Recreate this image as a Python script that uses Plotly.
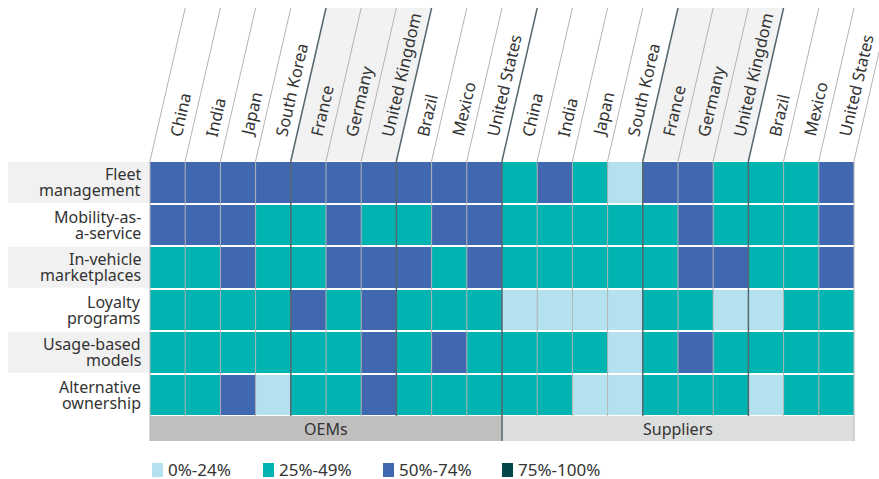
import plotly.graph_objects as go

# ---- data -------------------------------------------------------------
countries = ["China", "India", "Japan", "South Korea", "France", "Germany",
             "United Kingdom", "Brazil", "Mexico", "United States"]
groups = ["OEMs", "Suppliers"]
use_cases = [
    "Fleet\nmanagement",
    "Mobility-as-\na-service",
    "In-vehicle\nmarketplaces",
    "Loyalty\nprograms",
    "Usage-based\nmodels",
    "Alternative\nownership",
]
bins = ["0%-24%", "25%-49%", "50%-74%", "75%-100%"]

# bin index per use case, one entry per country (same order as countries)
oem_levels = [
    [2, 2, 2, 2, 2, 2, 2, 2, 2, 2],
    [2, 2, 2, 1, 1, 2, 1, 1, 2, 2],
    [1, 1, 2, 1, 1, 2, 2, 2, 1, 2],
    [1, 1, 1, 1, 2, 1, 2, 1, 1, 1],
    [1, 1, 1, 1, 1, 1, 2, 1, 2, 1],
    [1, 1, 2, 0, 1, 1, 2, 1, 1, 1],
]
supplier_levels = [
    [1, 2, 1, 0, 2, 2, 1, 1, 1, 2],
    [1, 1, 1, 1, 1, 2, 1, 1, 1, 2],
    [1, 1, 1, 1, 1, 2, 2, 1, 1, 2],
    [0, 0, 0, 0, 1, 1, 0, 0, 1, 1],
    [1, 1, 1, 0, 1, 2, 1, 1, 1, 1],
    [1, 1, 0, 0, 1, 1, 1, 0, 1, 1],
]
europe = ["France", "Germany", "United Kingdom"]

# ---- styling ----------------------------------------------------------
bin_colors = ["#b3e2ee", "#00b5b1", "#4068b0", "#03474a"]
FONT = "Noto Sans"
TXT = "#333333"
W, H = 879, 479
X0, CW = 150, 35.2      # left edge of grid, column width (px)
Y0, RH = 161, 42.5      # top edge of grid, row height (px)
TOP = 8                 # top of slanted header (px)
ncol = len(countries) * len(groups)
nrow = len(use_cases)


def dx(px):
    return (px - X0) / CW


def dy(py):
    return (py - Y0) / RH


z = [o + s for o, s in zip(oem_levels, supplier_levels)]
cols = [f"{g} - {c}" for g in groups for c in countries]

scale = []
for k, c in enumerate(bin_colors):
    scale += [[k / 4, c], [(k + 1) / 4, c]]

fig = go.Figure(go.Heatmap(
    z=z, x=[i + 0.5 for i in range(ncol)], y=[j + 0.5 for j in range(nrow)],
    zmin=-0.5, zmax=3.5, colorscale=scale, showscale=False,
    xgap=0, ygap=2,
    customdata=[[cols[i] for i in range(ncol)] for _ in range(nrow)],
    text=[[bins[v] for v in row] for row in z],
    hovertemplate="%{customdata}<br>%{text}<extra></extra>",
))

shapes = []
annotations = []
htop = dy(TOP)

# header parallelograms + labels
for g in range(len(groups)):
    for k, c in enumerate(countries):
        i = g * len(countries) + k
        if c in europe:
            shapes.append(dict(
                type="path", layer="below",
                path=f"M {i},0 L {i+1},0 L {i+2},{htop} L {i+1},{htop} Z",
                fillcolor="#f2f2f2", line=dict(width=0)))
        annotations.append(dict(
            x=i + 0.33, y=dy(141), xref="x", yref="y", text=c,
            textangle=-77, xanchor="left", yanchor="bottom", showarrow=False,
            font=dict(family=FONT, size=16.5, color=TXT)))

dark = {4, 7, 10, 14, 17}
for i in range(ncol + 1):
    col = "#56666c" if i in dark else "#b4b4b4"
    wid = 1.5 if i in dark else 1
    shapes.append(dict(type="line", x0=i, y0=0, x1=i + 1, y1=htop,
                       line=dict(color=col, width=wid)))
    y_end = nrow + (dy(441) - nrow if i in (0, 10, 20) else 0)
    shapes.append(dict(type="line", x0=i, y0=0, x1=i, y1=y_end, layer="above",
                       line=dict(color=col, width=wid)))

# row labels
for j, lab in enumerate(use_cases):
    if j % 2 == 0:
        shapes.append(dict(type="rect", layer="below", x0=dx(8), x1=0,
                           y0=j + 0.02, y1=j + 0.98, fillcolor="#f1f1f1",
                           line=dict(width=0)))
    lines = lab.split("\n")
    for n, t in enumerate(lines):
        annotations.append(dict(
            x=dx(142), y=j + 0.5 + (n - (len(lines) - 1) / 2) * 16.4 / RH,
            xref="x", yref="y", text=t, xanchor="right", yanchor="middle",
            showarrow=False, borderpad=0,
            font=dict(family=FONT, size=16, color=TXT)))

# group band
band_cols = ["#c1bfbe", "#dcdddd"]
for g, name in enumerate(groups):
    a = g * len(countries)
    b = a + len(countries)
    shapes.append(dict(type="rect", layer="below", x0=a, x1=b, y0=nrow,
                       y1=dy(441), fillcolor=band_cols[g], line=dict(width=0)))
    annotations.append(dict(
        x=(a + b) / 2, y=(nrow + dy(441)) / 2, xref="x", yref="y", text=name,
        showarrow=False, yanchor="middle",
        font=dict(family=FONT, size=16, color=TXT)))

# legend
leg_x = [152, 263, 383, 502]
for k, (lab, c) in enumerate(zip(bins, bin_colors)):
    x = leg_x[k]
    shapes.append(dict(type="rect", xref="x", yref="y", x0=dx(x), x1=dx(x + 11),
                       y0=dy(463), y1=dy(477), fillcolor=c, line=dict(width=0)))
    annotations.append(dict(
        x=dx(x + 15), y=dy(469), xref="x", yref="y", text=lab,
        xanchor="left", yanchor="middle", showarrow=False, borderpad=0,
        font=dict(family=FONT, size=17, color=TXT)))

fig.update_layout(
    width=W, height=H,
    margin=dict(l=0, r=0, t=0, b=0),
    paper_bgcolor="white", plot_bgcolor="white",
    xaxis=dict(range=[dx(0), dx(W)], visible=False, fixedrange=True),
    yaxis=dict(range=[dy(H), dy(0)], visible=False, fixedrange=True),
    shapes=shapes, annotations=annotations,
    showlegend=False,
)

# page body has an 8px margin by default; drop it so the chart fills the window
fig.write_html("out.html", config={"displayModeBar": False},
               post_script="document.body.style.margin='0';")
